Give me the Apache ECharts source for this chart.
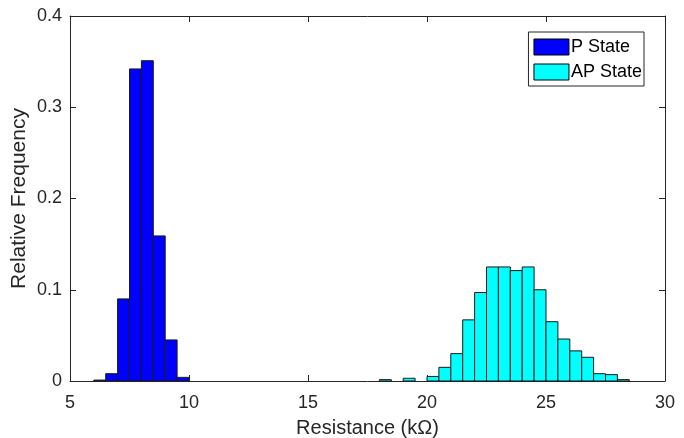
<!DOCTYPE html>
<html>
<head>
<meta charset="utf-8">
<script src="https://cdn.jsdelivr.net/npm/echarts@6/dist/echarts.min.js"></script>
<style>html,body{margin:0;padding:0;background:#fff;}#c{width:684px;height:438px;}</style>
</head>
<body>
<div id="c"></div>
<script>
// Histogram bins (left edge, kΩ) and relative frequencies
var binWidth = 0.5;
var pBinStarts = [6, 6.5, 7, 7.5, 8, 8.5, 9, 9.5];
var pFreq      = [0.001, 0.008, 0.090, 0.342, 0.351, 0.159, 0.045, 0.004];
var apBinStarts = [18, 18.5, 19, 19.5, 20, 20.5, 21, 21.5, 22, 22.5, 23, 23.5, 24, 24.5, 25, 25.5, 26, 26.5, 27, 27.5, 28];
var apFreq      = [0.0015, 0, 0.003, 0, 0.005, 0.015, 0.030, 0.067, 0.097, 0.125, 0.125, 0.121, 0.125, 0.100, 0.065, 0.046, 0.033, 0.026, 0.008, 0.007, 0.0015];
var xTicks = [5, 10, 15, 20, 25, 30];
var yTicks = [0, 0.1, 0.2, 0.3, 0.4];
var seriesNames = ['P State', 'AP State'];
var seriesColors = ['#0000ff', '#00ffff'];

function toData(starts, freq) {
  return starts.map(function (s, i) { return [s, s + binWidth, freq[i]]; });
}

function renderBar(color) {
  return function (params, api) {
    var p0 = api.coord([api.value(0), api.value(2)]);
    var p1 = api.coord([api.value(1), 0]);
    if (api.value(2) <= 0) return null;
    return {
      type: 'rect',
      shape: { x: p0[0], y: p0[1], width: p1[0] - p0[0], height: p1[1] - p0[1] },
      style: { fill: color, stroke: '#1a1a1a', lineWidth: 1 }
    };
  };
}

var font = 'Liberation Sans, Arial, Helvetica, sans-serif';
var axisColor = '#262626';
var chart = echarts.init(document.getElementById('c'), null, { renderer: 'canvas' });

var commonX = { type: 'value', min: xTicks[0], max: xTicks[xTicks.length - 1], interval: xTicks[1] - xTicks[0] };
var commonY = { type: 'value', min: yTicks[0], max: yTicks[yTicks.length - 1], interval: yTicks[1] - yTicks[0] };

chart.setOption({
  animation: false,
  backgroundColor: '#fff',
  grid: { left: 70, right: 19, top: 16, bottom: 57, containLabel: false, outerBoundsMode: 'none' },
  legend: {
    right: 40, top: 32,
    orient: 'vertical',
    itemWidth: 35, itemHeight: 16, itemGap: 7,
    padding: [6, 2, 5, 5],
    backgroundColor: '#fff', borderColor: '#262626', borderWidth: 1, borderRadius: 0,
    textStyle: { fontFamily: font, fontSize: 18, color: '#000', padding: [0, 0, 0, -3] },
    data: [
      { name: seriesNames[0], icon: 'rect', itemStyle: { color: seriesColors[0], borderColor: '#000', borderWidth: 1 } },
      { name: seriesNames[1], icon: 'rect', itemStyle: { color: seriesColors[1], borderColor: '#000', borderWidth: 1 } }
    ]
  },
  xAxis: [
    Object.assign({}, commonX, {
      position: 'bottom',
      name: 'Resistance (kΩ)', nameLocation: 'middle', nameGap: 37, nameMoveOverlap: false,
      nameTextStyle: { fontFamily: font, fontSize: 20, color: axisColor },
      axisLine: { show: true, onZero: false, lineStyle: { color: axisColor, width: 1 } },
      axisTick: { show: true, inside: true, length: 6, lineStyle: { color: axisColor } },
      axisLabel: { fontFamily: font, fontSize: 18, color: axisColor, margin: 13 },
      splitLine: { show: false }
    }),
    Object.assign({}, commonX, {
      position: 'top',
      axisLine: { show: true, onZero: false, lineStyle: { color: axisColor, width: 1 } },
      axisTick: { show: true, inside: true, length: 6, lineStyle: { color: axisColor } },
      axisLabel: { show: false },
      splitLine: { show: false }
    })
  ],
  yAxis: [
    Object.assign({}, commonY, {
      position: 'left',
      name: 'Relative Frequency', nameLocation: 'middle', nameGap: 40, nameMoveOverlap: false,
      nameTextStyle: { fontFamily: font, fontSize: 21, color: axisColor },
      axisLine: { show: true, onZero: false, lineStyle: { color: axisColor, width: 1 } },
      axisTick: { show: true, inside: true, length: 6, lineStyle: { color: axisColor } },
      axisLabel: { fontFamily: font, fontSize: 18, color: axisColor, margin: 8 },
      splitLine: { show: false }
    }),
    Object.assign({}, commonY, {
      position: 'right',
      axisLine: { show: true, onZero: false, lineStyle: { color: axisColor, width: 1 } },
      axisTick: { show: true, inside: true, length: 6, lineStyle: { color: axisColor } },
      axisLabel: { show: false },
      splitLine: { show: false }
    })
  ],
  series: [
    {
      name: seriesNames[0], type: 'custom', xAxisIndex: 0, yAxisIndex: 0,
      itemStyle: { color: seriesColors[0] },
      renderItem: renderBar(seriesColors[0]),
      encode: { x: [0, 1], y: 2 },
      data: toData(pBinStarts, pFreq)
    },
    {
      name: seriesNames[1], type: 'custom', xAxisIndex: 0, yAxisIndex: 0,
      itemStyle: { color: seriesColors[1] },
      renderItem: renderBar(seriesColors[1]),
      encode: { x: [0, 1], y: 2 },
      data: toData(apBinStarts, apFreq)
    }
  ]
});
</script>
</body>
</html>
